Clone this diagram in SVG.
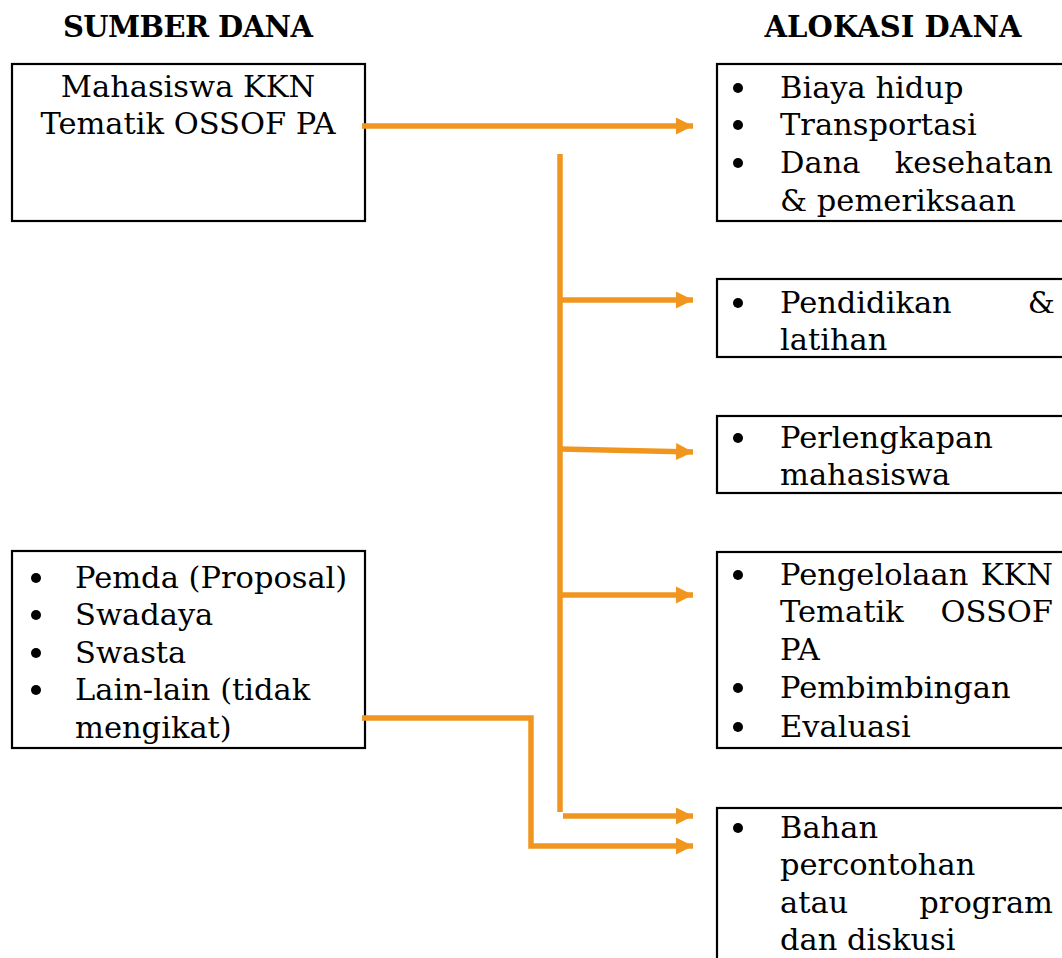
<svg xmlns="http://www.w3.org/2000/svg" width="1062" height="958" viewBox="0 0 1062 958">
<defs>
<style>
.t{font-family:"DejaVu Serif","Liberation Serif",serif;font-size:30.5px;fill:#000}
.h{font-family:"DejaVu Serif","Liberation Serif",serif;font-size:29px;font-weight:bold;fill:#000}
.box{fill:#fff;stroke:#000;stroke-width:2.2}
.c{fill:none;stroke:#F0961E;stroke-width:5.5}
.e{text-anchor:end}
.m{text-anchor:middle}
</style>
<marker id="ar" viewBox="0 0 10 10" refX="10" refY="5" markerWidth="17" markerHeight="18" markerUnits="userSpaceOnUse" orient="auto">
<path d="M0,0 L10,5 L0,10 Z" fill="#F0961E"/>
</marker>
</defs>
<rect width="1062" height="958" fill="#fff"/>
<g id="headers">
<text class="h m" x="188" y="37" textLength="250">SUMBER DANA</text>
<text class="h m" x="893" y="37" textLength="257">ALOKASI DANA</text>
</g>
<g id="src1">
<rect class="box" x="12" y="64" width="353" height="157"/>
<text class="t m" x="188" y="97">Mahasiswa KKN</text>
<text class="t m" x="188" y="134">Tematik OSSOF PA</text>
</g>
<g id="src2">
<rect class="box" x="12" y="551" width="353" height="197"/>
<circle cx="36" cy="578" r="5"/><text class="t" x="75" y="588">Pemda (Proposal)</text>
<circle cx="36" cy="615" r="5"/><text class="t" x="75" y="625">Swadaya</text>
<circle cx="36" cy="653" r="5"/><text class="t" x="75" y="663">Swasta</text>
<circle cx="36" cy="690" r="5"/><text class="t" x="75" y="700">Lain-lain (tidak</text>
<text class="t" x="75" y="738">mengikat)</text>
</g>
<g id="alloc1">
<rect class="box" x="717" y="64" width="360" height="157"/>
<circle cx="738" cy="88" r="5"/><text class="t" x="780" y="98">Biaya hidup</text>
<circle cx="738" cy="125" r="5"/><text class="t" x="780" y="135">Transportasi</text>
<circle cx="738" cy="163" r="5"/><text class="t" x="780" y="173">Dana</text><text class="t e" x="1053" y="173">kesehatan</text>
<text class="t" x="780" y="211">&amp; pemeriksaan</text>
</g>
<g id="alloc2">
<rect class="box" x="717" y="279" width="360" height="78"/>
<circle cx="738" cy="303" r="5"/><text class="t" x="780" y="313">Pendidikan</text><text class="t e" x="1055" y="313">&amp;</text>
<text class="t" x="780" y="350">latihan</text>
</g>
<g id="alloc3">
<rect class="box" x="717" y="416" width="360" height="77"/>
<circle cx="738" cy="438" r="5"/><text class="t" x="780" y="448">Perlengkapan</text>
<text class="t" x="780" y="485">mahasiswa</text>
</g>
<g id="alloc4">
<rect class="box" x="717" y="552" width="360" height="196"/>
<circle cx="738" cy="575" r="5"/><text class="t" x="780" y="585">Pengelolaan</text><text class="t e" x="1053" y="585">KKN</text>
<text class="t" x="780" y="622">Tematik</text><text class="t e" x="1053" y="622">OSSOF</text>
<text class="t" x="780" y="660">PA</text>
<circle cx="738" cy="688" r="5"/><text class="t" x="780" y="698">Pembimbingan</text>
<circle cx="738" cy="727" r="5"/><text class="t" x="780" y="737">Evaluasi</text>
</g>
<g id="alloc5">
<rect class="box" x="717" y="808" width="360" height="170"/>
<circle cx="738" cy="828" r="5"/><text class="t" x="780" y="838">Bahan</text>
<text class="t" x="780" y="875">percontohan</text>
<text class="t" x="780" y="913">atau</text><text class="t e" x="1053" y="913">program</text>
<text class="t" x="780" y="950">dan diskusi</text>
</g>
<g id="connectors">
<path class="c" d="M362,126 H693" marker-end="url(#ar)"/>
<path class="c" d="M560,154 V812"/>
<path class="c" d="M560,300 H693" marker-end="url(#ar)"/>
<path class="c" d="M560,449 L693,452" marker-end="url(#ar)"/>
<path class="c" d="M560,595 H693" marker-end="url(#ar)"/>
<path class="c" d="M563,816 H693" marker-end="url(#ar)"/>
<path class="c" d="M362,718 H531 V846 H693" marker-end="url(#ar)"/>
</g>
</svg>
